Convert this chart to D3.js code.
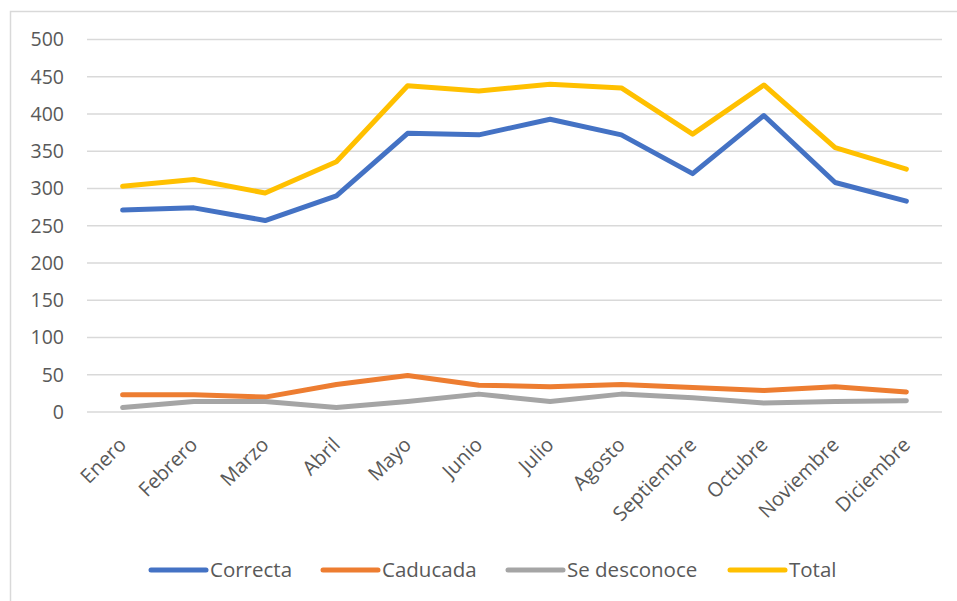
<html>
<head>
  <meta charset="utf-8">
  <title>Correcta / Caducada / Se desconoce / Total</title>
  <style>
    body{
      margin: 0;
      background: white;
    }
    #container{
      width: 957px;
      height: 601px;
    }
    text{
      font-family: "Open Sans", sans-serif;
      fill: #595959;
    }
  </style>
  <script src="https://d3js.org/d3.v7.min.js"></script>
</head>
<body>
  <div id="container"></div>

  <script>
    //*******DATA*******
    const months = ["Enero", "Febrero", "Marzo", "Abril", "Mayo", "Junio",
                    "Julio", "Agosto", "Septiembre", "Octubre", "Noviembre", "Diciembre"];
    const correcta = [271, 274, 257, 290, 374, 372, 393, 372, 320, 398, 308, 283];
    const caducada = [23, 23, 20, 37, 49, 36, 34, 37, 33, 29, 34, 27];
    const desconoce = [6, 14, 14, 6, 14, 24, 14, 24, 19, 12, 14, 15];
    const total = [303, 312, 294, 336, 438, 431, 440, 435, 373, 439, 355, 326];
    const yTicks = [0, 50, 100, 150, 200, 250, 300, 350, 400, 450, 500];

    const seriesNames = ["Correcta", "Caducada", "Se desconoce", "Total"];
    const seriesValues = [correcta, caducada, desconoce, total];
    const colors = ["#4472C4", "#ED7D31", "#A5A5A5", "#FFC000"];

    //*******CONSTANTS*******
    const width = 957,
          height = 601,
          margin = {
            top: 39.5,
            bottom: 189,
            left: 87,
            right: 15
          };

    //*******SVG*******
    var svg = d3.select("#container")
      .append("svg")
      .attr("width", width)
      .attr("height", height);

    // chart area border (left and top edges visible in the crop)
    svg.append("path")
      .attr("d", "M10.5," + height + "V11.5H" + width)
      .attr("fill", "none")
      .attr("stroke", "#d9d9d9")
      .attr("stroke-width", 1.5);

    var x = d3.scaleBand()
      .domain(months)
      .range([margin.left, width - margin.right]);

    var y = d3.scaleLinear()
      .domain([0, 500])
      .range([height - margin.bottom, margin.top]);

    // gridlines
    svg.append("g")
      .selectAll("line")
      .data(yTicks)
      .enter()
      .append("line")
      .attr("x1", margin.left)
      .attr("x2", width - margin.right)
      .attr("y1", function(d){return y(d);})
      .attr("y2", function(d){return y(d);})
      .attr("stroke", "#d9d9d9")
      .attr("stroke-width", 1.5);

    // y axis labels
    var yAxis = svg.append("g")
      .attr("transform", "translate(" + (margin.left - 23) + ",0)")
      .call(d3.axisLeft(y).tickValues(yTicks).tickSize(0).tickPadding(0));
    yAxis.select(".domain").remove();
    yAxis.selectAll("text")
      .attr("font-size", "19.5px")
      .attr("font-family", "Open Sans, sans-serif")
      .attr("fill", "#595959");

    // x axis labels, rotated
    var xAxis = svg.append("g")
      .attr("transform", "translate(0," + y(0) + ")")
      .call(d3.axisBottom(x).tickSize(0).tickPadding(0));
    xAxis.select(".domain").remove();
    xAxis.selectAll("text")
      .attr("font-size", "20px")
      .attr("font-family", "Open Sans, sans-serif")
      .attr("fill", "#595959")
      .attr("text-anchor", "end")
      .attr("y", 0)
      .attr("dy", 0)
      .attr("transform", "translate(5,34) rotate(-45)");

    // lines
    var line = d3.line()
      .x(function(d, i){return x(months[i]) + x.bandwidth()/2;})
      .y(function(d){return y(d);});

    svg.append("g")
      .selectAll("path")
      .data(seriesValues)
      .enter()
      .append("path")
      .attr("d", line)
      .attr("fill", "none")
      .attr("stroke", function(d, i){return colors[i];})
      .attr("stroke-width", 5)
      .attr("stroke-linejoin", "round")
      .attr("stroke-linecap", "round");

    // legend
    var legendX = [151, 323, 508, 730];
    var legend = svg.append("g")
      .selectAll("g")
      .data(seriesNames)
      .enter()
      .append("g")
      .attr("transform", function(d, i){return "translate(" + legendX[i] + ",570)";});

    legend.append("line")
      .attr("x1", 0)
      .attr("x2", 55)
      .attr("stroke", function(d, i){return colors[i];})
      .attr("stroke-width", 5)
      .attr("stroke-linecap", "round");

    legend.append("text")
      .attr("x", 59)
      .attr("dy", "0.35em")
      .attr("font-size", "20.5px")
      .text(function(d){return d;});
  </script>
</body>
</html>
